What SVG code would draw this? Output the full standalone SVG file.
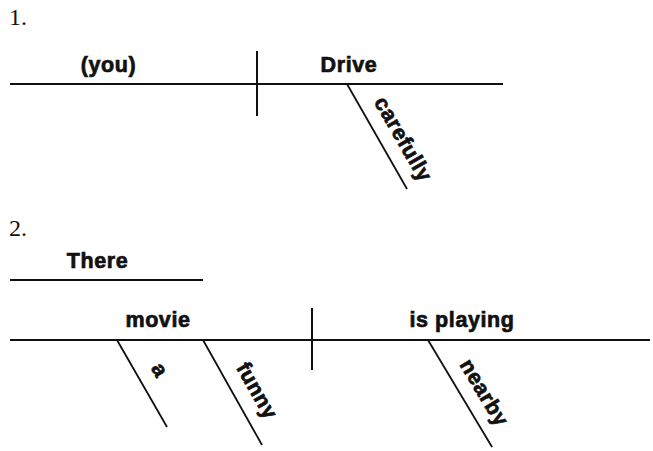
<svg xmlns="http://www.w3.org/2000/svg" width="653" height="451" viewBox="0 0 653 451">
<style>
.num{font-family:"Liberation Serif",serif;font-size:24px;fill:#111}
.w{font-family:"Liberation Sans",Arial,sans-serif;font-weight:bold;font-size:21.5px;letter-spacing:0.6px;fill:#111;stroke:#111;stroke-width:0.7}
.c{text-anchor:middle}
.ln{stroke:#111;stroke-width:2;fill:none}
.sl{stroke:#111;stroke-width:1.8;fill:none}
</style>
<rect width="653" height="451" fill="#fff"/>
<text class="num" x="9" y="25">1.</text>
<text class="num" x="9" y="236">2.</text>
<g id="connectors">
<line class="ln" x1="10" y1="84" x2="503" y2="84"/>
<line class="ln" x1="257" y1="51" x2="257" y2="116"/>
<line class="sl" x1="347" y1="84" x2="407" y2="189"/>
<line class="ln" x1="10" y1="280" x2="203" y2="280"/>
<line class="ln" x1="10" y1="340" x2="650" y2="340"/>
<line class="ln" x1="312" y1="308" x2="312" y2="370"/>
<line class="sl" x1="117" y1="340" x2="167" y2="427"/>
<line class="sl" x1="203" y1="340" x2="262" y2="445"/>
<line class="sl" x1="428" y1="340" x2="492" y2="447"/>
</g>
<g id="you"><text class="w c" x="108.5" y="72">(you)</text></g>
<g id="drive"><text class="w c" x="349" y="72">Drive</text></g>
<g id="carefully"><text class="w" transform="translate(347 84) rotate(60)" x="29" y="-14">carefully</text></g>
<g id="there"><text class="w c" x="97.5" y="268">There</text></g>
<g id="movie"><text class="w c" x="158" y="327">movie</text></g>
<g id="isplaying"><text class="w c" x="462" y="327">is playing</text></g>
<g id="a"><text class="w" transform="translate(117 340) rotate(60)" x="41" y="-15">a</text></g>
<g id="funny"><text class="w" transform="translate(203 340) rotate(60.5)" x="40" y="-15">funny</text></g>
<g id="nearby"><text class="w" transform="translate(428 340) rotate(59)" x="37" y="-14">nearby</text></g>
</svg>
